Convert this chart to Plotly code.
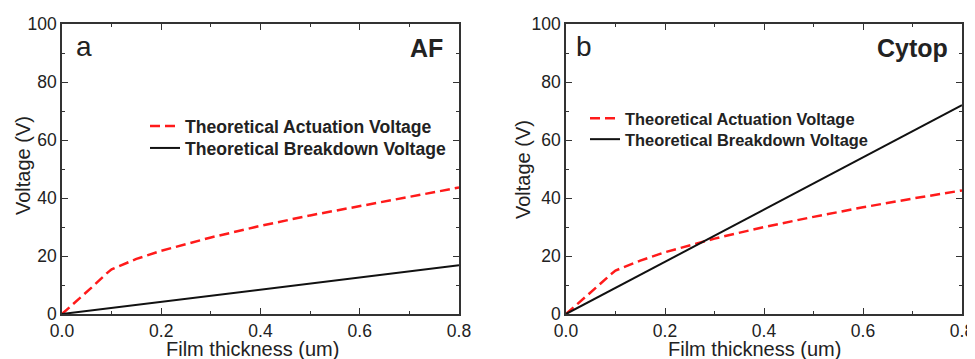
import plotly.graph_objects as go

thickness = [0.0, 0.03, 0.06, 0.09, 0.1, 0.15, 0.2, 0.3, 0.4, 0.5, 0.6, 0.7, 0.8]
act_af = [0.0, 4.5, 9.2, 14.0, 15.4, 19.0, 21.8, 26.4, 30.4, 34.0, 37.3, 40.4, 43.6]
act_cytop = [0.0, 4.4, 9.0, 13.6, 15.0, 18.4, 21.3, 26.0, 30.0, 33.5, 36.8, 39.8, 42.6]
bd_x = [0.0, 0.8]
bd_af = [0.0, 16.8]
bd_cytop = [0.0, 72.0]
panel_letters = ["a", "b"]
panel_names = ["AF", "Cytop"]
x_ticks = [0.0, 0.2, 0.4, 0.6, 0.8]
x_ticklabels = ["0.0", "0.2", "0.4", "0.6", "0.8"]
y_ticks = [0, 20, 40, 60, 80, 100]

# page is 975x359; browser body margin offsets the figure by 8px
OFF = 8
W, H = 975 - OFF, 359 - OFF
T = 24 - OFF
B = H - (314 - OFF)
PH = H - T - B
FONT = "Liberation Sans, Arial, sans-serif"
TXT = "#222222"
AX = "#333333"


def px_x(p):
    return (p - OFF) / W


def px_y(p):
    return (H - B - (p - OFF)) / PH


fig = go.Figure()

act = [act_af, act_cytop]
bd = [bd_af, bd_cytop]
for i in range(2):
    xa = "x" if i == 0 else "x2"
    ya = "y" if i == 0 else "y2"
    fig.add_trace(go.Scatter(x=thickness, y=act[i], mode="lines", xaxis=xa, yaxis=ya,
                             name="Theoretical Actuation Voltage", showlegend=True,
                             legend="legend" if i == 0 else "legend3",
                             line=dict(color="#ff1a1a", width=2.5, dash="10px,5px")))
    fig.add_trace(go.Scatter(x=bd_x, y=bd[i], mode="lines", xaxis=xa, yaxis=ya,
                             name="Theoretical Breakdown Voltage", showlegend=True,
                             legend="legend2" if i == 0 else "legend4",
                             line=dict(color="#111111", width=2)))

doms = [[px_x(62), px_x(459)], [px_x(566), px_x(962)]]
axcommon = dict(showline=True, mirror="allticks", linecolor=AX, linewidth=1.5,
                ticks="inside", tickcolor=AX, ticklen=6, tickwidth=1.2,
                showgrid=False, zeroline=False, automargin=False,
                tickfont=dict(family=FONT, size=17.5, color=TXT))
for i in range(2):
    sfx = "" if i == 0 else "2"
    fig.layout["xaxis" + sfx] = dict(
        axcommon, domain=doms[i], range=[0, 0.8], tickvals=x_ticks, ticktext=x_ticklabels,
        minor=dict(ticks="inside", dtick=0.1, ticklen=3, tickcolor=AX, tickwidth=1.2),
        anchor="y" + sfx)
    fig.layout["yaxis" + sfx] = dict(
        axcommon, domain=[0, 1], range=[0, 100], tickvals=y_ticks,
        minor=dict(ticks="inside", dtick=10, ticklen=3, tickcolor=AX, tickwidth=1.2),
        anchor="x" + sfx)


def leg(xp, yp, size):
    return dict(x=px_x(xp), y=px_y(yp), xref="paper", yref="paper",
                xanchor="left", yanchor="top", bgcolor="rgba(0,0,0,0)",
                font=dict(family=FONT, size=size, color=TXT, weight="bold"),
                tracegroupgap=0, itemwidth=30, visible=True)


fig.update_layout(
    width=W, height=H, margin=dict(l=0, r=0, t=T, b=B, autoexpand=False),
    paper_bgcolor="white", plot_bgcolor="white", showlegend=True,
    legend=leg(145, 108, 17.6),
    legend2=leg(145, 130, 17.6),
    legend3=leg(585, 101, 16.4),
    legend4=leg(585, 122, 16.4),
)

letter_x = [74, 574]
name_x = [445, 950]
ytitle_x = [23, 523]
ytitle_y = [166, 170]
xtitle_x = [252, 754]
for i in range(2):
    fig.add_annotation(text=panel_letters[i], xref="paper", yref="paper",
                       x=px_x(letter_x[i]), y=px_y(46),
                       xanchor="left", yanchor="middle", showarrow=False,
                       font=dict(family=FONT, size=28, color=TXT))
    fig.add_annotation(text="<b>" + panel_names[i] + "</b>", xref="paper", yref="paper",
                       x=px_x(name_x[i]), y=px_y(48),
                       xanchor="right", yanchor="middle", showarrow=False,
                       font=dict(family=FONT, size=25, color=TXT))
    fig.add_annotation(text="Voltage (V)", xref="paper", yref="paper", textangle=-90,
                       x=px_x(ytitle_x[i]), y=px_y(ytitle_y[i]),
                       xanchor="center", yanchor="middle", showarrow=False,
                       font=dict(family=FONT, size=20, color=TXT))
    fig.add_annotation(text="Film thickness (um)", xref="paper", yref="paper",
                       x=px_x(xtitle_x[i]), y=px_y(349),
                       xanchor="center", yanchor="middle", showarrow=False,
                       font=dict(family=FONT, size=20, color=TXT))

fig.write_html("out.html")
